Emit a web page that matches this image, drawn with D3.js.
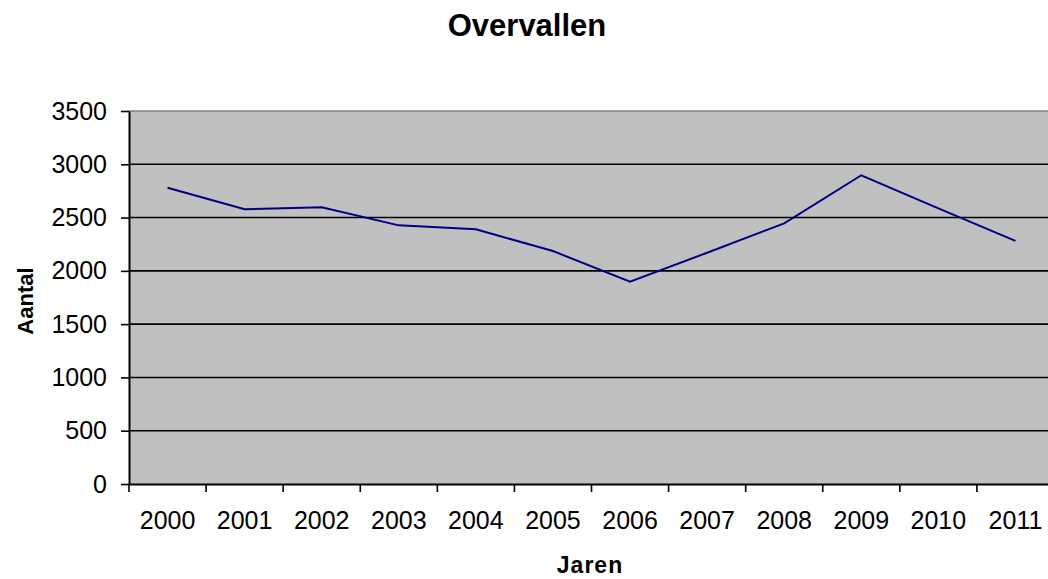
<!DOCTYPE html>
<html><head><meta charset="utf-8">
<script src="https://cdn.jsdelivr.net/npm/d3@7"></script>
<style>html,body{margin:0;padding:0;background:#fff;overflow:hidden}svg{display:block;font-family:Arial,"Liberation Sans",sans-serif}</style>
</head><body>
<svg id="c" width="1048" height="579"></svg>
<script>
const years = ["2000","2001","2002","2003","2004","2005","2006","2007","2008","2009","2010","2011"];
const overvallen = [2780,2578,2596,2427,2390,2186,1898,2170,2446,2897,2587,2282];
const yTicks = [0,500,1000,1500,2000,2500,3000,3500];

const svg = d3.select("#c");
const L = 129, R = 1054, T = 111, B = 484;
const x = d3.scaleBand().domain(years).range([L, R]);
const y = d3.scaleLinear().domain([0, 3500]).range([B, T]);

svg.append("rect").attr("x", L).attr("y", T).attr("width", R - L).attr("height", B - T).attr("fill", "#c0c0c0");
svg.append("line").attr("x1", L).attr("x2", R).attr("y1", T).attr("y2", T).attr("stroke", "#808080").attr("stroke-width", 1.5);

// gridlines
svg.append("g").selectAll("line").data(yTicks.filter(d => d > 0 && d < 3500)).join("line")
  .attr("x1", L).attr("x2", R).attr("y1", d => y(d)).attr("y2", d => y(d))
  .attr("stroke", "#000").attr("stroke-width", 1.6);

// y axis
const ya = svg.append("g").attr("transform", `translate(${L},0)`)
  .call(d3.axisLeft(y).tickValues(yTicks).tickFormat(d3.format("d")).tickSize(8).tickPadding(14).tickSizeOuter(0));
ya.select(".domain").attr("stroke", "#000").attr("stroke-width", 2);
ya.selectAll(".tick line").attr("stroke", "#000").attr("stroke-width", 1.6);
ya.selectAll("text").attr("font-size", 25).attr("fill", "#000").attr("font-family", "Arial, 'Liberation Sans', sans-serif");

// x axis
const xa = svg.append("g").attr("transform", `translate(0,${B})`)
  .call(d3.axisBottom(x).tickSize(0).tickPadding(27));
xa.select(".domain").attr("stroke", "#000").attr("stroke-width", 2);
xa.selectAll("text").attr("font-size", 25).attr("fill", "#000").attr("font-family", "Arial, 'Liberation Sans', sans-serif");
// category boundary ticks
const bounds = years.map(d => x(d)).concat([R]);
svg.append("g").selectAll("line").data(bounds).join("line")
  .attr("x1", d => d).attr("x2", d => d).attr("y1", B).attr("y2", B + 8)
  .attr("stroke", "#000").attr("stroke-width", 1.6);

// line
const line = d3.line().x((d, i) => x(years[i]) + x.bandwidth() / 2).y(d => y(d));
svg.append("path").datum(overvallen).attr("d", line)
  .attr("fill", "none").attr("stroke", "#000080").attr("stroke-width", 2);

// titles
svg.append("text").attr("x", 527).attr("y", 36).attr("text-anchor", "middle")
  .attr("font-size", 31).attr("font-weight", "bold").text("Overvallen");
svg.append("text").attr("x", 590).attr("y", 573).attr("text-anchor", "middle")
  .attr("font-size", 23).attr("font-weight", "bold").attr("letter-spacing", 1).text("Jaren");
svg.append("text").attr("transform", "translate(33,301) rotate(-90)").attr("text-anchor", "middle")
  .attr("font-size", 22).attr("font-weight", "bold").text("Aantal");
</script>
</body></html>
